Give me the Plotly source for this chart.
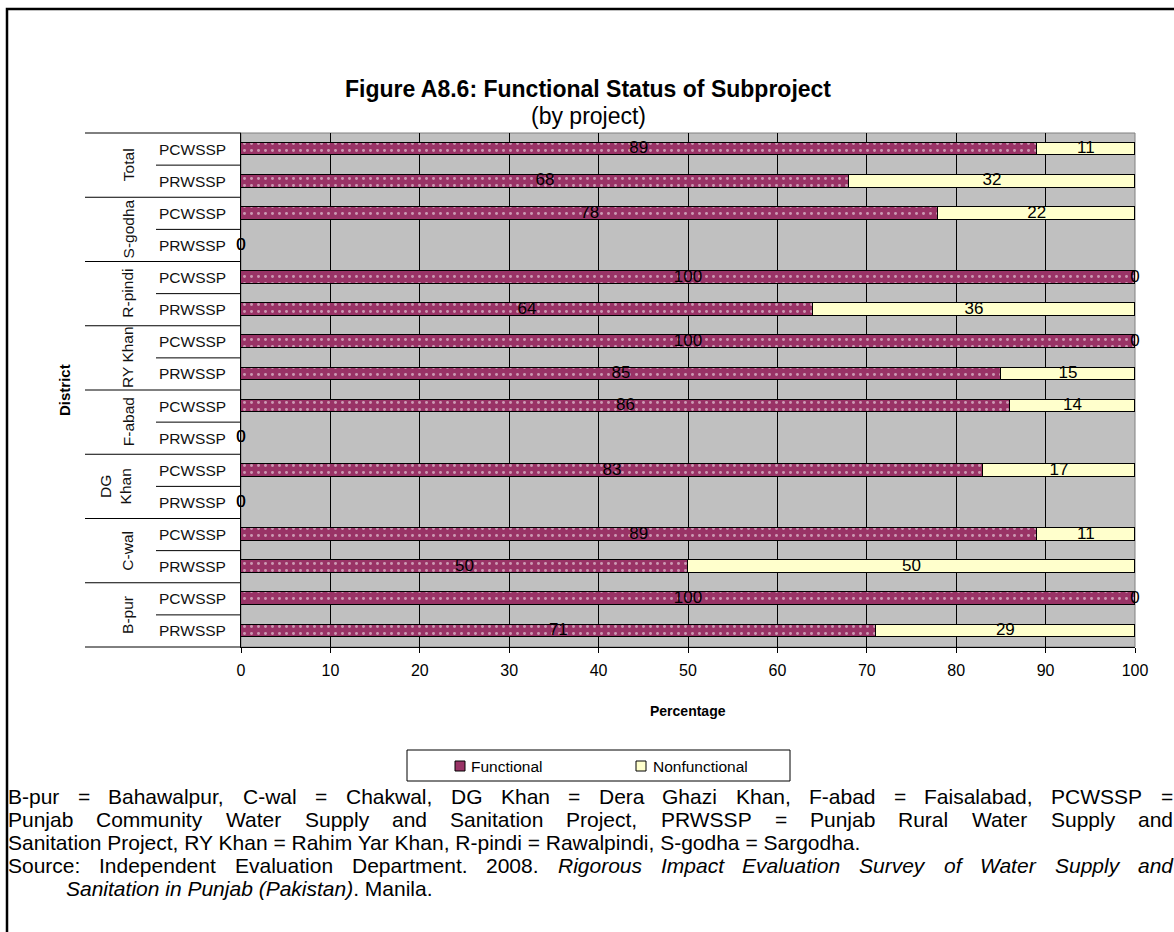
import plotly.graph_objects as go

# Rows listed bottom to top
districts = ["B-pur", "B-pur", "C-wal", "C-wal", "DG<br>Khan", "DG<br>Khan",
             "F-abad", "F-abad", "RY Khan", "RY Khan", "R-pindi", "R-pindi",
             "S-godha", "S-godha", "Total", "Total"]
projects = ["PRWSSP", "PCWSSP"] * 8
functional = [71, 100, 50, 89, 0, 83, 0, 86, 85, 100, 64, 100, 0, 78, 68, 89]
nonfunctional = [29, 0, 50, 11, 0, 17, 0, 14, 15, 0, 36, 0, 0, 22, 32, 11]
x_ticks = [0, 10, 20, 30, 40, 50, 60, 70, 80, 90, 100]

W, H = 1174, 932
L, R, T, B = 241, 1135, 133, 647  # plot area in pixels
PW, PH = R - L, B - T


def px(xp):
    return (xp - L) / PW


def py(yp):
    return (B - yp) / PH


FONT = "Liberation Sans, Arial, sans-serif"
rows = list(range(len(projects)))

fig = go.Figure()
fig.add_trace(go.Bar(
    y=rows, x=functional, orientation="h", width=0.4, name="Functional",
    marker=dict(color="#993366", line=dict(color="black", width=1),
                pattern=dict(shape=".", fgcolor="white", bgcolor="#993366",
                             size=7, solidity=0.14)),
    hoverinfo="skip"))
fig.add_trace(go.Bar(
    y=rows, x=nonfunctional, orientation="h", width=0.4, name="Nonfunctional",
    marker=dict(color="#FFFFCC", line=dict(color="black", width=1)),
    hoverinfo="skip"))

# value labels centred on each segment
fig.add_trace(go.Scatter(
    y=rows, x=[f / 2 for f in functional], mode="text", cliponaxis=False,
    text=[str(f) for f in functional], textposition="middle center",
    textfont=dict(family=FONT, size=17, color="black"), hoverinfo="skip"))
fig.add_trace(go.Scatter(
    y=rows, x=[f + n / 2 for f, n in zip(functional, nonfunctional)], mode="text",
    cliponaxis=False, text=[str(n) for n in nonfunctional], textposition="middle center",
    textfont=dict(family=FONT, size=17, color="black"), hoverinfo="skip"))

shapes = []
annotations = []

# plot area frame (right/top edges)
shapes.append(dict(type="rect", xref="paper", yref="paper", x0=0, x1=1, y0=0, y1=1,
                   line=dict(color="#808080", width=1), layer="below"))

# outer frame of the figure
shapes.append(dict(type="rect", xref="paper", yref="paper",
                   x0=px(7), x1=px(1190), y0=py(950), y1=py(9),
                   line=dict(color="black", width=2.5)))

# category separators on the left
for i in range(len(projects) + 1):
    yb = (B - (i * PH / len(projects)))
    x_start = 85 if i % 2 == 0 else 156
    shapes.append(dict(type="line", xref="paper", yref="paper",
                       x0=px(x_start), x1=0, y0=py(yb), y1=py(yb),
                       line=dict(color="black", width=1)))

# project labels
for i, p in enumerate(projects):
    annotations.append(dict(xref="paper", yref="y", x=px(228), y=i, text=p,
                            xanchor="right", yanchor="middle", showarrow=False,
                            font=dict(family=FONT, size=15.5, color="#111")))

# district labels (rotated)
for i in range(0, len(districts), 2):
    annotations.append(dict(xref="paper", yref="y",
                            x=px(128) if "<br>" not in districts[i] else px(115),
                            y=i + 0.5, text=districts[i], textangle=-90,
                            xanchor="center", yanchor="middle", showarrow=False,
                            font=dict(family=FONT, size=15.5, color="#111")))

annotations.append(dict(xref="paper", yref="paper", x=px(64), y=py(390), text="<b>District</b>",
                        textangle=-90, showarrow=False, xanchor="center", yanchor="middle",
                        font=dict(family=FONT, size=15, color="black")))
annotations.append(dict(xref="paper", yref="paper", x=px(688), y=py(711), text="<b>Percentage</b>",
                        showarrow=False, xanchor="center", yanchor="middle",
                        font=dict(family=FONT, size=14, color="black")))

# title
annotations.append(dict(xref="paper", yref="paper", x=px(588), y=py(89),
                        text="<b>Figure A8.6: Functional Status of Subproject</b>",
                        showarrow=False, xanchor="center", yanchor="middle",
                        font=dict(family=FONT, size=23, color="black")))
annotations.append(dict(xref="paper", yref="paper", x=px(588), y=py(116),
                        text="(by project)", showarrow=False, xanchor="center", yanchor="middle",
                        font=dict(family=FONT, size=23, color="black")))

# legend
shapes.append(dict(type="rect", xref="paper", yref="paper", x0=px(407), x1=px(790),
                   y0=py(781), y1=py(750), line=dict(color="black", width=1),
                   fillcolor="white"))
shapes.append(dict(type="rect", xref="paper", yref="paper", x0=px(455), x1=px(465),
                   y0=py(771), y1=py(761), line=dict(color="black", width=1),
                   fillcolor="#993366"))
shapes.append(dict(type="rect", xref="paper", yref="paper", x0=px(636), x1=px(646),
                   y0=py(771), y1=py(761), line=dict(color="black", width=1),
                   fillcolor="#FFFFCC"))
annotations.append(dict(xref="paper", yref="paper", x=px(469), y=py(766), text="Functional",
                        showarrow=False, xanchor="left", yanchor="middle",
                        font=dict(family=FONT, size=15.5, color="black")))
annotations.append(dict(xref="paper", yref="paper", x=px(651), y=py(766), text="Nonfunctional",
                        showarrow=False, xanchor="left", yanchor="middle",
                        font=dict(family=FONT, size=15.5, color="black")))

# footnotes: justified lines spread their words between the left and right ends
HELV = {" ": 278, "=": 584, ",": 278, "-": 333, ".": 278, "(": 333, ")": 333, ":": 278}
HELV.update(dict(zip("ABCDEFGHIJKLMNOPQRSTUVWXYZ",
                     [667, 667, 722, 722, 667, 611, 778, 722, 278, 500, 667, 556, 833,
                      722, 778, 667, 778, 722, 667, 611, 722, 667, 944, 667, 667, 611])))
HELV.update(dict(zip("abcdefghijklmnopqrstuvwxyz",
                     [556, 556, 500, 556, 556, 278, 556, 556, 222, 222, 500, 222, 833,
                      556, 556, 556, 556, 333, 500, 278, 556, 500, 722, 500, 500, 500])))
HELV.update({d: 556 for d in "0123456789"})
NOTE_SIZE = 21


def text_width(s):
    return sum(HELV.get(c, 556) for c in s) * NOTE_SIZE / 1000


# (y, left, right or None for natural spacing, [(text, italic), ...])
note_lines = [
    (796, 7, 1172, [("B-pur = Bahawalpur, C-wal = Chakwal, DG Khan = Dera Ghazi Khan, "
                     "F-abad = Faisalabad, PCWSSP =", False)]),
    (819, 7, 1172, [("Punjab Community Water Supply and Sanitation Project, PRWSSP = "
                     "Punjab Rural Water Supply and", False)]),
    (842, 7, None, [("Sanitation Project, RY Khan = Rahim Yar Khan, R-pindi = Rawalpindi, "
                     "S-godha = Sargodha.", False)]),
    (865, 7, 1172, [("Source: Independent Evaluation Department. 2008.", False),
                    ("Rigorous Impact Evaluation Survey of Water Supply and", True)]),
    (888, 65, None, [("Sanitation in Punjab (Pakistan)", True), (". Manila.", False)]),
]
for yl, x_left, x_right, segments in note_lines:
    if x_right is None:
        text = "".join(("<i>%s</i>" % s) if it else s for s, it in segments)
        annotations.append(dict(xref="paper", yref="paper", x=px(x_left), y=py(yl), text=text,
                                showarrow=False, xanchor="left", yanchor="middle", borderpad=0,
                                font=dict(family=FONT, size=NOTE_SIZE, color="black")))
        continue
    words = [(w, it) for s, it in segments for w in s.split(" ")]
    widths = [text_width(w) for w, _ in words]
    gap = (x_right - x_left - sum(widths)) / (len(words) - 1)
    xw = x_left
    for (w, it), wd in zip(words, widths):
        annotations.append(dict(xref="paper", yref="paper", x=px(xw), y=py(yl),
                                text=("<i>%s</i>" % w) if it else w,
                                showarrow=False, xanchor="left", yanchor="middle", borderpad=0,
                                font=dict(family=FONT, size=NOTE_SIZE, color="black")))
        xw += wd + gap

fig.update_layout(
    width=W, height=H,
    margin=dict(l=L, r=W - R, t=T, b=H - B, pad=0),
    paper_bgcolor="white", plot_bgcolor="#C0C0C0",
    barmode="stack", bargap=0, showlegend=False,
    shapes=shapes, annotations=annotations,
    xaxis=dict(range=[0, 100], tickvals=x_ticks, showgrid=True, gridcolor="black",
               gridwidth=1, showline=True, linecolor="black", linewidth=1,
               ticks="outside", ticklen=5, tickcolor="black", zeroline=False,
               ticklabelstandoff=4,
               tickfont=dict(family=FONT, size=16, color="black")),
    yaxis=dict(range=[-0.5, len(projects) - 0.5], showticklabels=False, showgrid=False,
               zeroline=False, showline=True, linecolor="black", linewidth=1, ticks=""),
)

fig.write_html("out.html")
